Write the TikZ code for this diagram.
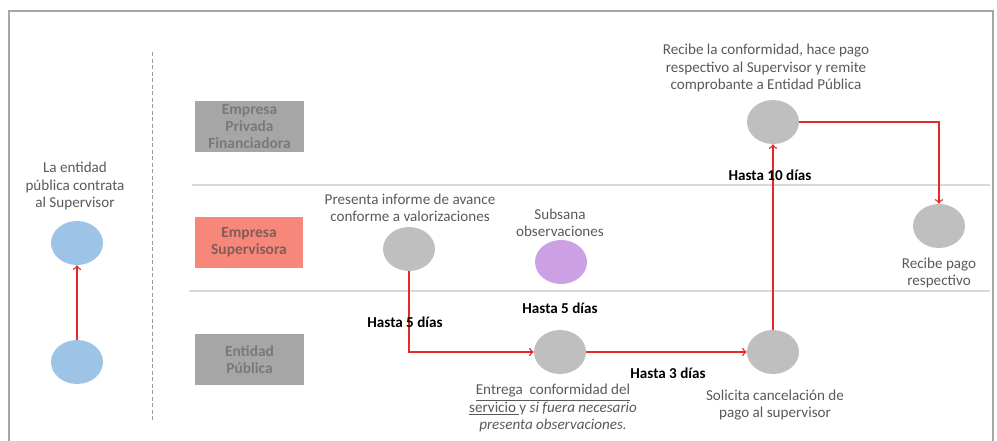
\documentclass[tikz,border=0pt]{standalone}
\usepackage{fontspec}
\setmainfont{Carlito}
\usepackage{tikz}
\usetikzlibrary{shapes,shapes.geometric}
\usetikzlibrary{arrows}
\definecolor{grisnodo}{RGB}{191,191,191}
\definecolor{griscarril}{RGB}{166,166,166}
\definecolor{grisletra}{RGB}{89,89,89}
\definecolor{salmon}{RGB}{247,135,122}
\definecolor{azulnodo}{RGB}{157,195,230}
\definecolor{lila}{RGB}{204,160,228}
\definecolor{rojoflecha}{RGB}{230,40,40}
\begin{document}
\begin{tikzpicture}[x=0.02cm,y=-0.02cm,
		txt/.style={text=grisletra,align=center,font=\fontsize{8.6}{9.7}\selectfont,inner sep=0pt},
		plazo/.style={font=\bfseries\fontsize{8.6}{9.7}\selectfont,inner sep=0pt},
		carril/.style={fill=griscarril,text=gray!95!black,minimum width=2.18cm,minimum height=1.02cm,align=center,inner sep=0pt,font=\bfseries\fontsize{8.8}{9.9}\selectfont},
		evento/.style={ellipse,fill=grisnodo,minimum width=1.04cm,minimum height=0.88cm,inner sep=0pt},
		flecha/.style={draw=rojoflecha,line width=0.8pt,->,>=to}]
			\useasboundingbox (0,0) rectangle (997,440);
			\draw [gray!70,line width=0.6pt] (9,11) rectangle (993,450);
			\draw [gray!80,line width=0.5pt,dash pattern=on 2.5pt off 1.2pt] (152,52)-- (152,420);
			\draw [gray!30,line width=0.6pt] (192,185)-- (990,185);
			\draw [gray!30,line width=0.6pt] (189,291)-- (990,291);
			\node[carril] (financiadora) at (249.5,126.5) {Empresa\\Privada\\Financiadora};
			\node[carril,fill=salmon,text=salmon!50!gray!70!black] (supervisora) at (249,242) {Empresa\\Supervisora};
			\node[carril] (entidad) at (249.5,359.5) {Entidad\\Pública};
			\node[txt] (lblcontrata) at (75,186) {La entidad\\pública contrata\\al Supervisor};
			\node[evento,fill=azulnodo] (contratoA) at (77,243) {};
			\node[evento,fill=azulnodo] (contratoB) at (77,362) {};
			\node[evento] (presenta) at (409,249) {};
			\node[txt] (lblpresenta) at (410,208) {Presenta informe de avance\\conforme a valorizaciones};
			\node[evento,fill=lila] (subsana) at (561,262) {};
			\node[txt] (lblsubsana) at (560,223) {Subsana\\observaciones};
			\node[evento] (entrega) at (560,352) {};
			\node[txt] (lblentrega) at (553,408) {\underline{Entrega\ \ conformidad del}\\\underline{servicio\ }y \textit{si fuera necesario}\\\textit{presenta observaciones.}};
			\node[evento] (solicita) at (773,352) {};
			\node[txt] (lblsolicita) at (775,405) {Solicita cancelación de\\pago al supervisor};
			\node[evento] (recibe) at (773,122) {};
			\node[txt] (lblrecibe) at (766,68) {Recibe la conformidad, hace pago\\respectivo al Supervisor y remite\\comprobante a Entidad Pública};
			\node[evento] (pago) at (939,226) {};
			\node[txt] (lblpago) at (939,273) {Recibe pago\\respectivo};
			\draw[flecha] (contratoB.north)-- (contratoA.south);
			\draw[flecha] (presenta.south) |- (entrega.west);
			\draw[flecha] (entrega.east)-- (solicita.west);
			\draw[flecha] (solicita.north)-- (recibe.south);
			\draw[flecha] (recibe.east) -| (pago.north);
			\node[plazo] (plazoA) at (405,322) {Hasta 5 días};
			\node[plazo] (plazoB) at (560,308) {Hasta 5 días};
			\node[plazo] (plazoC) at (668,373) {Hasta 3 días};
			\node[plazo] (plazoD) at (770,175) {Hasta 10 días};
		\end{tikzpicture}
\end{document}
